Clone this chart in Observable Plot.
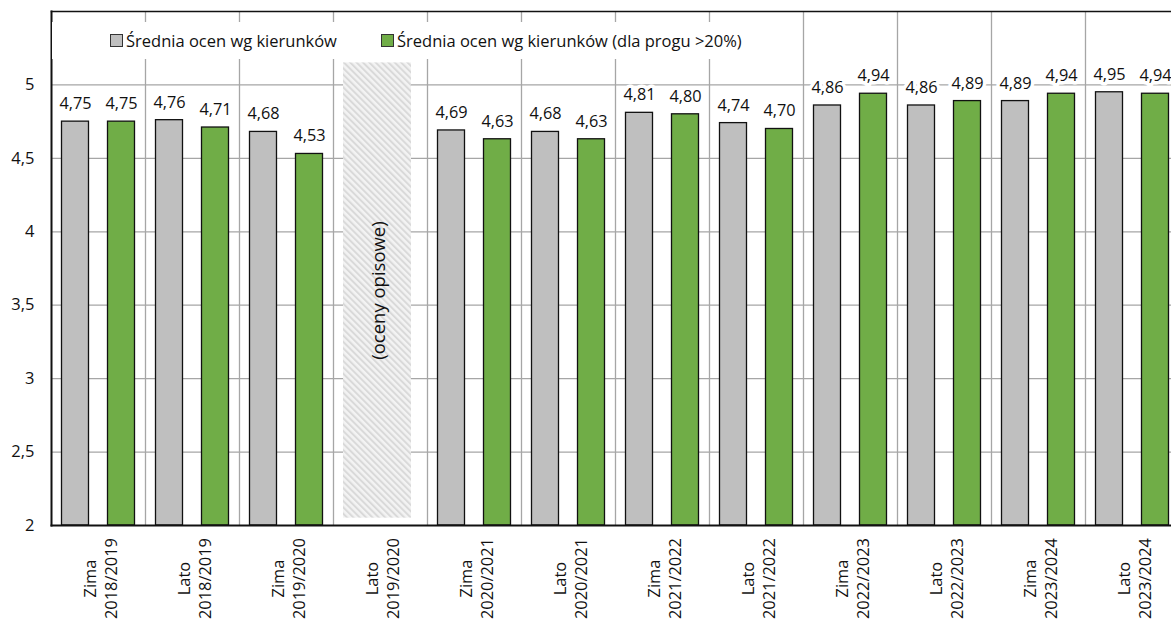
<!DOCTYPE html>
<html>
<head>
<meta charset="utf-8">
<script src="https://cdn.jsdelivr.net/npm/d3@7"></script>
<script src="https://cdn.jsdelivr.net/npm/@observablehq/plot@0.6"></script>
<style>
  html, body { margin: 0; padding: 0; background: white; overflow: hidden; }
  #wrap { position: relative; width: 1171px; height: 619px; font-family: 'Open Sans', sans-serif; }
  #legend { position: absolute; left: 52px; top: 22px; width: 738px; height: 37px; background: white; }
  .item { position: absolute; top: 0; height: 37px; display: flex; align-items: center; font-size: 16.5px; color: #111; white-space: nowrap; }
  .sw { width: 11px; height: 11px; border: 1px solid #333; margin-right: 3px; }
</style>
</head>
<body>
<div id="wrap">
  <div id="chart"></div>
  <div id="legend"></div>
</div>
<script>
// ---- data ----
const categories = [
  "Zima\n2018/2019", "Lato\n2018/2019", "Zima\n2019/2020", "Lato\n2019/2020",
  "Zima\n2020/2021", "Lato\n2020/2021", "Zima\n2021/2022", "Lato\n2021/2022",
  "Zima\n2022/2023", "Lato\n2022/2023", "Zima\n2023/2024", "Lato\n2023/2024"
];
const seriesNames = ["Średnia ocen wg kierunków", "Średnia ocen wg kierunków (dla progu >20%)"];
const grayValues  = [4.75, 4.76, 4.68, null, 4.69, 4.68, 4.81, 4.74, 4.86, 4.86, 4.89, 4.95];
const greenValues = [4.75, 4.71, 4.53, null, 4.63, 4.63, 4.80, 4.70, 4.94, 4.89, 4.94, 4.94];
const yTicks = [2, 2.5, 3, 3.5, 4, 4.5, 5];
const yDomain = [2, 5.5];
const noteCategory = "Lato\n2019/2020";
const noteText = "(oceny opisowe)";
const noteRange = [2.05, 5.15];
const noteTextY = 3.6;

const colors = ["#bfbfbf", "#70ad47"];
const fmt = v => d3.format(".2f")(v).replace(".", ",");

const grayRows = categories.map((c, i) => ({cat: c, value: grayValues[i]})).filter(d => d.value != null);
const greenRows = categories.map((c, i) => ({cat: c, value: greenValues[i]})).filter(d => d.value != null);

const W = 1171, H = 619;
const plot = Plot.plot({
  width: W, height: H,
  marginLeft: 51, marginRight: 0, marginTop: 11, marginBottom: 94,
  style: {fontFamily: "'Open Sans', sans-serif", fontSize: "16px", color: "#111", background: "white"},
  x: {type: "band", domain: categories, range: [51, 1179], padding: 0, axis: null},
  y: {domain: yDomain, axis: null},
  marks: [
    // horizontal gridlines
    Plot.ruleY(yTicks.slice(1), {stroke: "#a6a6a6", strokeWidth: 1.3}),
    // vertical separators between categories
    Plot.ruleX(categories, {x: d => d, dx: 47, stroke: "#a6a6a6", strokeWidth: 1.3}),
    // hatched area for descriptive grades
    Plot.barY([noteCategory], {x: d => d, y1: noteRange[0], y2: noteRange[1], insetLeft: 10, insetRight: 16, fill: "url(#hatch)"}),
    Plot.text([noteText], {x: () => noteCategory, y: noteTextY, text: d => d, rotate: -90, dx: -1, fontSize: 18.5, fill: "#111"}),
    // bars
    Plot.barY(grayRows, {x: "cat", y: "value", y1: yDomain[0], insetLeft: 10.5, insetRight: 56.5, fill: colors[0], stroke: "#111", strokeWidth: 1.3}),
    Plot.barY(greenRows, {x: "cat", y: "value", y1: yDomain[0], insetLeft: 56.5, insetRight: 10.5, fill: colors[1], stroke: "#111", strokeWidth: 1.3}),
    // value labels
    Plot.text(grayRows, {x: "cat", y: "value", text: d => fmt(d.value), dx: -23, dy: -12.5, lineAnchor: "bottom", fontSize: 16.3, fill: "#111", stroke: "white", strokeWidth: 7}),
    Plot.text(greenRows, {x: "cat", y: "value", text: d => fmt(d.value), dx: 23, dy: -12.5, lineAnchor: "bottom", fontSize: 16.3, fill: "#111", stroke: "white", strokeWidth: 7}),
    // y axis labels
    Plot.axisY({ticks: yTicks, tickFormat: d => String(d).replace(".", ","), tickSize: 0, tickPadding: 17, fontSize: 16.5, label: null}),
    // x labels
    Plot.text(categories, {x: d => d, text: d => d, frameAnchor: "bottom", dy: 53, dx: 1.5, rotate: -90, textAnchor: "middle", lineAnchor: "middle", lineHeight: 1.3, fontSize: 16.4, fill: "#111"}),
    // frame
    Plot.frame({anchor: "left", stroke: "#111", strokeWidth: 2}),
    Plot.frame({anchor: "top", stroke: "#111", strokeWidth: 1.5}),
    Plot.frame({anchor: "bottom", stroke: "#111", strokeWidth: 2})
  ]
});

// hatch pattern
const defs = d3.select(plot).insert("defs", ":first-child");
const pat = defs.append("pattern").attr("id", "hatch").attr("patternUnits", "userSpaceOnUse")
  .attr("width", 4.5).attr("height", 4.5).attr("patternTransform", "rotate(-45)");
pat.append("rect").attr("width", 4.5).attr("height", 4.5).attr("fill", "#f3f3f3");
pat.append("rect").attr("width", 2).attr("height", 4.5).attr("fill", "#d9d9d9");

document.getElementById("chart").appendChild(plot);

// legend
const legend = d3.select("#legend");
const lefts = [58, 329];
seriesNames.forEach((name, i) => {
  const it = legend.append("div").attr("class", "item").style("left", lefts[i] + "px");
  it.append("div").attr("class", "sw").style("background", colors[i]);
  it.append("span").text(name);
});
</script>
</body>
</html>
